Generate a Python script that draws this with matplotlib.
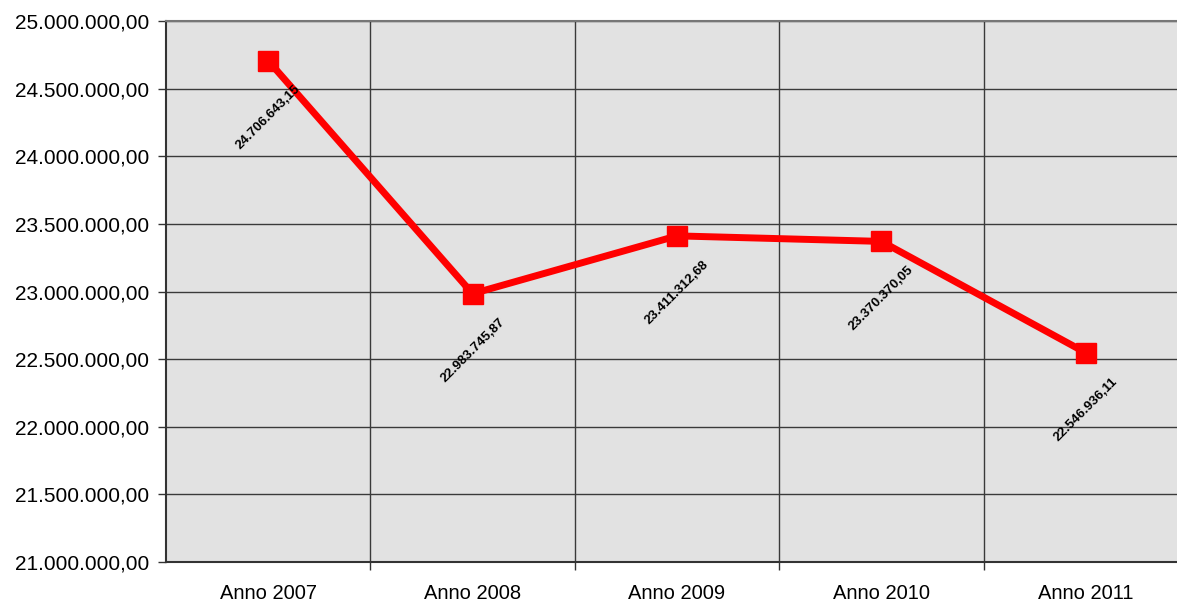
import numpy as np
import matplotlib.pyplot as plt
from matplotlib.ticker import FuncFormatter, MultipleLocator, FixedLocator

# ------------------------------------------------------------
# Data
# ------------------------------------------------------------

years = ["Anno 2007", "Anno 2008", "Anno 2009", "Anno 2010", "Anno 2011"]

values = [24706643.15, 22983745.87, 23411312.68, 23370370.05, 22546936.11]

value_labels = ["24.706.643,15", "22.983.745,87", "23.411.312,68",
                "23.370.370,05", "22.546.936,11"]

# ------------------------------------------------------------
# Style
# ------------------------------------------------------------

plt.rcParams["font.family"] = ["Liberation Sans", "DejaVu Sans"]


def it_format(v, pos):
    s = f"{v:,.2f}"
    return s.replace(",", "X").replace(".", ",").replace("X", ".")


fig = plt.figure(figsize=(11.77, 6.03), dpi=100)

W, H = 1177, 603
ax = fig.add_axes([166 / W, 1 - 562 / H, 1022 / W, (562 - 21) / H])

x = np.arange(len(years))

ax.set_facecolor("#e2e2e2")

ax.plot(
    x,
    values,
    color="#ff0000",
    linewidth=5,
    marker="s",
    markersize=14,
    zorder=3,
    clip_on=False,
)

for xi, v, lab in zip(x, values, value_labels):
    ax.annotate(
        lab,
        (xi, v),
        xytext=(0, -41),
        textcoords="offset points",
        rotation=45,
        ha="center",
        va="center",
        fontsize=9.5,
        fontweight="bold",
        rotation_mode="anchor",
        zorder=4,
    )

ax.set_xlim(-0.5, len(years) - 0.5)
ax.set_ylim(21000000, 25000000)

ax.yaxis.set_major_locator(MultipleLocator(500000))
ax.yaxis.set_major_formatter(FuncFormatter(it_format))

ax.set_xticks(x)
ax.set_xticklabels(years)
ax.xaxis.set_minor_locator(FixedLocator(np.arange(0.5, len(years) - 0.5, 1)))

ax.tick_params(axis="x", which="major", length=0, pad=16, labelsize=14.5)
ax.tick_params(axis="x", which="minor", length=6, width=1, color="#333333")
ax.tick_params(axis="y", length=6, width=1, color="#333333", labelsize=15, pad=6)

ax.grid(axis="y", which="major", color="#3a3a3a", linewidth=1)
ax.grid(axis="x", which="minor", color="#3a3a3a", linewidth=1)
ax.set_axisbelow(True)

for side in ["left", "bottom"]:
    ax.spines[side].set_color("#333333")
    ax.spines[side].set_linewidth(1.5)
ax.spines["top"].set_color("#777777")
ax.spines["top"].set_linewidth(1.5)
ax.spines["right"].set_visible(False)

fig.savefig("out.png", dpi=100)
